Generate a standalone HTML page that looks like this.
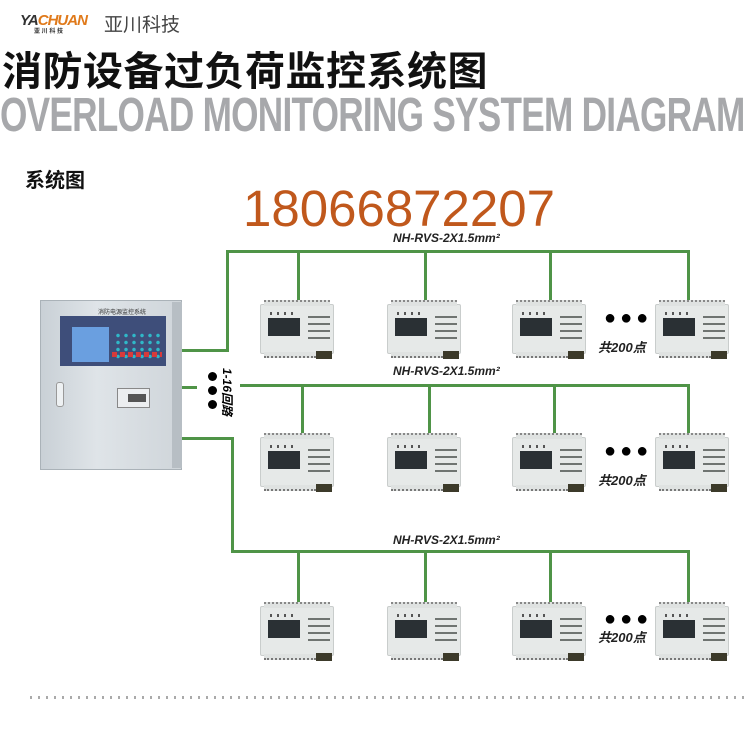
<!DOCTYPE html>
<html><head><meta charset="utf-8"><style>
*{margin:0;padding:0;box-sizing:border-box}
body{width:750px;height:750px;background:#fff;position:relative;overflow:hidden;font-family:"Liberation Sans","Noto Sans CJK SC",sans-serif}
.a{position:absolute}
.g{position:absolute;background:#4f9447}
.lbl{position:absolute;font-size:12px;font-style:italic;font-weight:bold;color:#222;white-space:nowrap}
.m{position:absolute;width:78px;height:62px}
.m .b{position:absolute;left:2px;top:6px;width:74px;height:50px;background:#e6e9e8;border:1px solid #c9cdcc;border-radius:2px}
.m .t{position:absolute;left:6px;top:2px;width:66px;height:6px;background:#dfe2e1;border-top:2px dotted #888}
.m .bt{position:absolute;left:6px;top:54px;width:52px;height:6px;background:#dfe2e1;border-bottom:2px dotted #777}
.m .c{position:absolute;left:58px;top:53px;width:16px;height:8px;background:#3c3a2a}
.m .s{position:absolute;left:10px;top:20px;width:32px;height:18px;background:#2a3034}
.m .k{position:absolute;left:50px;top:18px;width:22px;height:26px;background:repeating-linear-gradient(#6f7471 0 2px,#e6e9e8 2px 7px)}
.m .d{position:absolute;left:12px;top:14px;width:28px;height:3px;background:repeating-linear-gradient(90deg,#555 0 2px,transparent 2px 7px)}
.dots{position:absolute;font-size:20px;letter-spacing:4px;color:#000}
.tot{position:absolute;font-size:13px;font-style:italic;font-weight:bold;color:#222}
</style></head><body>
<div class="a" style="left:20px;top:12px;font:italic bold 15px 'Liberation Sans',sans-serif;color:#333;letter-spacing:-1px">YA<span style="color:#e07a1b">CHUAN</span></div>
<div class="a" style="left:34px;top:26px;font-size:6px;color:#333;font-weight:bold">亚 川 科 技</div>
<div class="a" style="left:104px;top:10px;font-size:19px;color:#444">亚川科技</div>
<div class="a" style="left:2px;top:48px;font-size:40px;font-weight:bold;color:#111;line-height:48px;white-space:nowrap;letter-spacing:0.5px">消防设备过负荷监控系统图</div>
<div class="a" style="left:0px;top:92px;font-size:48px;font-weight:bold;color:#a7a8ab;line-height:48px;white-space:nowrap;transform:scaleX(0.733);transform-origin:left top;letter-spacing:-1px">OVERLOAD MONITORING SYSTEM DIAGRAM</div>
<div class="a" style="left:25px;top:164px;font-size:20px;font-weight:bold;color:#111">系统图</div>
<div class="a" style="left:243px;top:181px;font-size:51px;color:#c0581c;line-height:56px">18066872207</div>
<div class="lbl" style="left:393px;top:231px">NH-RVS-2X1.5mm²</div>
<div class="lbl" style="left:393px;top:364px">NH-RVS-2X1.5mm²</div>
<div class="lbl" style="left:393px;top:533px">NH-RVS-2X1.5mm²</div>
<div class="g" style="left:226px;top:250px;width:464px;height:3px"></div>
<div class="g" style="left:226px;top:250px;width:3px;height:102px"></div>
<div class="g" style="left:181px;top:349px;width:48px;height:3px"></div>
<div class="g" style="left:297px;top:250px;width:3px;height:50px"></div>
<div class="g" style="left:424px;top:250px;width:3px;height:50px"></div>
<div class="g" style="left:549px;top:250px;width:3px;height:50px"></div>
<div class="g" style="left:687px;top:250px;width:3px;height:50px"></div>
<div class="g" style="left:181px;top:386px;width:16px;height:3px"></div>
<div class="g" style="left:240px;top:384px;width:450px;height:3px"></div>
<div class="g" style="left:301px;top:384px;width:3px;height:50px"></div>
<div class="g" style="left:428px;top:384px;width:3px;height:50px"></div>
<div class="g" style="left:553px;top:384px;width:3px;height:50px"></div>
<div class="g" style="left:687px;top:384px;width:3px;height:50px"></div>
<div class="g" style="left:181px;top:437px;width:53px;height:3px"></div>
<div class="g" style="left:231px;top:437px;width:3px;height:116px"></div>
<div class="g" style="left:231px;top:550px;width:459px;height:3px"></div>
<div class="g" style="left:297px;top:550px;width:3px;height:53px"></div>
<div class="g" style="left:424px;top:550px;width:3px;height:53px"></div>
<div class="g" style="left:549px;top:550px;width:3px;height:53px"></div>
<div class="g" style="left:687px;top:550px;width:3px;height:53px"></div>
<div class="a" style="left:40px;top:300px;width:142px;height:170px;background:linear-gradient(90deg,#c9d0d6,#dfe4e8 40%,#cfd5da);border:1px solid #aab2b8"></div>
<div class="a" style="left:172px;top:302px;width:10px;height:166px;background:#b7bec4"></div>
<div class="a" style="left:98px;top:307px;font-size:6px;color:#333">消防电源监控系统</div>
<div class="a" style="left:60px;top:316px;width:106px;height:50px;background:#3e4e7a"></div>
<div class="a" style="left:72px;top:327px;width:37px;height:35px;background:#6a9fe0"></div>
<div class="a" style="left:114px;top:332px;width:48px;height:28px;background:radial-gradient(circle,#2fb8c8 1.5px,transparent 2px) 0 0/8px 7px"></div>
<div class="a" style="left:112px;top:352px;width:50px;height:5px;background:repeating-linear-gradient(90deg,#d83a3a 0 5px,transparent 5px 8px)"></div>
<div class="a" style="left:56px;top:382px;width:8px;height:25px;background:#eef1f3;border:1px solid #999;border-radius:3px"></div>
<div class="a" style="left:117px;top:388px;width:33px;height:20px;background:#eceef0;border:1px solid #888"></div>
<div class="a" style="left:128px;top:394px;width:18px;height:8px;background:#555"></div>
<div class="a" style="left:208px;top:372px;width:9px;height:9px;border-radius:50%;background:#000"></div>
<div class="a" style="left:208px;top:386px;width:9px;height:9px;border-radius:50%;background:#000"></div>
<div class="a" style="left:208px;top:400px;width:9px;height:9px;border-radius:50%;background:#000"></div>
<div class="a" style="top:368px;font-size:12px;font-weight:bold;font-style:italic;transform:rotate(90deg);transform-origin:left top;left:236px;white-space:nowrap">1-16回路</div>
<div class="m" style="left:258px;top:298px"><div class="b"></div><div class="t"></div><div class="bt"></div><div class="c"></div><div class="d"></div><div class="s"></div><div class="k"></div></div>
<div class="m" style="left:385px;top:298px"><div class="b"></div><div class="t"></div><div class="bt"></div><div class="c"></div><div class="d"></div><div class="s"></div><div class="k"></div></div>
<div class="m" style="left:510px;top:298px"><div class="b"></div><div class="t"></div><div class="bt"></div><div class="c"></div><div class="d"></div><div class="s"></div><div class="k"></div></div>
<div class="m" style="left:653px;top:298px"><div class="b"></div><div class="t"></div><div class="bt"></div><div class="c"></div><div class="d"></div><div class="s"></div><div class="k"></div></div>
<div class="m" style="left:258px;top:431px"><div class="b"></div><div class="t"></div><div class="bt"></div><div class="c"></div><div class="d"></div><div class="s"></div><div class="k"></div></div>
<div class="m" style="left:385px;top:431px"><div class="b"></div><div class="t"></div><div class="bt"></div><div class="c"></div><div class="d"></div><div class="s"></div><div class="k"></div></div>
<div class="m" style="left:510px;top:431px"><div class="b"></div><div class="t"></div><div class="bt"></div><div class="c"></div><div class="d"></div><div class="s"></div><div class="k"></div></div>
<div class="m" style="left:653px;top:431px"><div class="b"></div><div class="t"></div><div class="bt"></div><div class="c"></div><div class="d"></div><div class="s"></div><div class="k"></div></div>
<div class="m" style="left:258px;top:600px"><div class="b"></div><div class="t"></div><div class="bt"></div><div class="c"></div><div class="d"></div><div class="s"></div><div class="k"></div></div>
<div class="m" style="left:385px;top:600px"><div class="b"></div><div class="t"></div><div class="bt"></div><div class="c"></div><div class="d"></div><div class="s"></div><div class="k"></div></div>
<div class="m" style="left:510px;top:600px"><div class="b"></div><div class="t"></div><div class="bt"></div><div class="c"></div><div class="d"></div><div class="s"></div><div class="k"></div></div>
<div class="m" style="left:653px;top:600px"><div class="b"></div><div class="t"></div><div class="bt"></div><div class="c"></div><div class="d"></div><div class="s"></div><div class="k"></div></div>
<div class="dots" style="left:604px;top:307px">●●●</div>
<div class="tot" style="left:598px;top:337px">共200点</div>
<div class="dots" style="left:604px;top:440px">●●●</div>
<div class="tot" style="left:598px;top:470px">共200点</div>
<div class="dots" style="left:604px;top:608px">●●●</div>
<div class="tot" style="left:598px;top:627px">共200点</div>
<div class="a" style="left:30px;top:696px;width:720px;height:3px;background:repeating-linear-gradient(90deg,#aaa 0 2px,transparent 2px 8px)"></div>
</body></html>
